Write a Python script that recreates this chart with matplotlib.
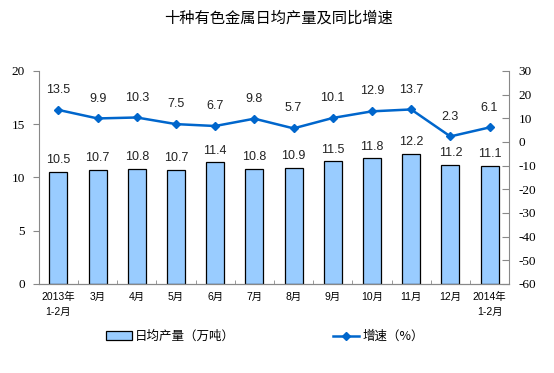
import matplotlib
matplotlib.use("Agg")
import matplotlib.pyplot as plt
from matplotlib.patches import Patch
from matplotlib.lines import Line2D
import numpy as np

categories = ["2013年\n1-2月", "3月", "4月", "5月", "6月", "7月", "8月", "9月", "10月", "11月", "12月", "2014年\n1-2月"]
output = [10.5, 10.7, 10.8, 10.7, 11.4, 10.8, 10.9, 11.5, 11.8, 12.2, 11.2, 11.1]
growth = [13.5, 9.9, 10.3, 7.5, 6.7, 9.8, 5.7, 10.1, 12.9, 13.7, 2.3, 6.1]

plt.rcParams['font.family'] = ['Liberation Sans', 'Noto Sans CJK SC']
plt.rcParams['axes.unicode_minus'] = False

fig = plt.figure(figsize=(5.54, 3.73), dpi=100)
ax = fig.add_axes([0.070, 0.239, 0.849, 0.571])
ax2 = ax.twinx()

x = np.arange(len(categories))
bars = ax.bar(x, output, width=0.46, color="#99CCFF", edgecolor="black", linewidth=0.9, zorder=2)
for xi, v in zip(x, output):
    ax.annotate(f"{v:.1f}", (xi, v), xytext=(0, 4), textcoords="offset points",
                ha="center", va="bottom", fontsize=9, color="#222222")

ax2.plot(x, growth, color="#0066CC", marker="D", markersize=4, linewidth=1.8, zorder=3)
for xi, v in zip(x, growth):
    ax2.annotate(f"{v:.1f}", (xi, v), xytext=(0, 10), textcoords="offset points",
                 ha="center", va="bottom", fontsize=9, color="#222222")

ax.set_xlim(-0.5, len(categories) - 0.5)
ax.set_ylim(0, 20)
ax.set_yticks(np.arange(0, 21, 5))
ax2.set_ylim(-60, 30)
ax2.set_yticks(np.arange(-60, 31, 10))

ax.set_xticks(x)
ax.set_xticklabels(categories, fontsize=7.5, family=['Liberation Sans', 'Noto Sans CJK SC'], linespacing=1.6)
ax.tick_params(axis='x', length=0, pad=6)
ax.set_xticks(np.arange(-0.5, len(categories), 1.0), minor=True)
ax.tick_params(axis='x', which='minor', direction='in', length=3, color="#888888")

ax.tick_params(axis='y', direction='out', length=4, color="#888888", labelsize=9.5, pad=6)
ax2.tick_params(axis='y', direction='in', length=5, color="#888888", labelsize=9.5, pad=7)
for lab in ax.get_yticklabels() + ax2.get_yticklabels():
    lab.set_family('Liberation Serif')

for a in (ax, ax2):
    a.spines['top'].set_visible(False)
    for s in ('left', 'right', 'bottom'):
        a.spines[s].set_color("#888888")
ax2.spines['left'].set_visible(False)
ax.spines['right'].set_visible(False)

fig.text(0.502, 0.952, "十种有色金属日均产量及同比增速", ha="center", va="center",
         fontsize=11, fontweight='medium', family=['Noto Sans CJK SC'])

handles = [Patch(facecolor="#99CCFF", edgecolor="black", linewidth=0.9),
           Line2D([0], [0], color="#0066CC", marker="D", markersize=4, linewidth=1.8)]
fig.legend(handles, ["日均产量（万吨）", "增速（%）"], loc="center", bbox_to_anchor=(0.478, 0.098),
           ncol=2, frameon=False, columnspacing=7.8, handlelength=2.1, handletextpad=0.25,
           prop={'family': ['Noto Sans CJK SC'], 'size': 9})

fig.savefig("out.png", dpi=100)
